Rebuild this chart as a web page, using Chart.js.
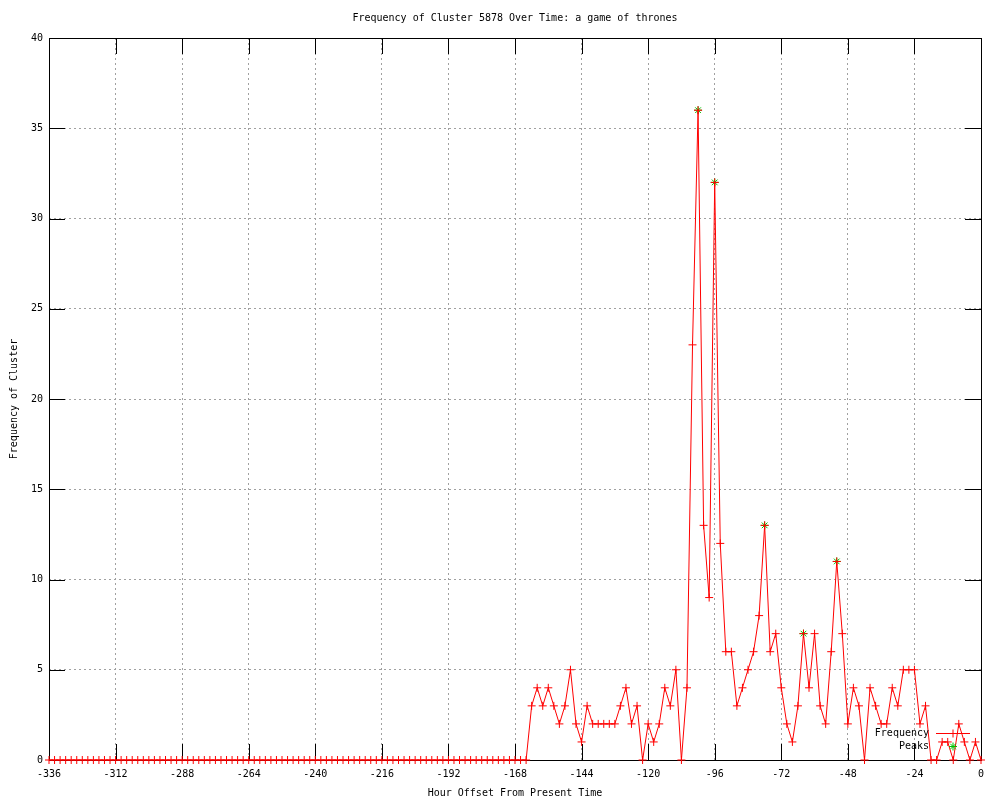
<!DOCTYPE html>
<html>
<head>
<meta charset="utf-8">
<title>Frequency of Cluster 5878</title>
<script src="https://cdn.jsdelivr.net/npm/chart.js@4/dist/chart.umd.min.js"></script>
<style>
    body { margin: 0; background: #fff; }
</style>
</head>
<body>
<canvas id="cluster-chart" width="1000" height="800"></canvas>
<script>
// hour offsets (2h buckets) and the cluster counts
const hours = [
    -336, -334, -332, -330, -328, -326, -324, -322, -320, -318, -316, -314,
    -312, -310, -308, -306, -304, -302, -300, -298, -296, -294, -292, -290,
    -288, -286, -284, -282, -280, -278, -276, -274, -272, -270, -268, -266,
    -264, -262, -260, -258, -256, -254, -252, -250, -248, -246, -244, -242,
    -240, -238, -236, -234, -232, -230, -228, -226, -224, -222, -220, -218,
    -216, -214, -212, -210, -208, -206, -204, -202, -200, -198, -196, -194,
    -192, -190, -188, -186, -184, -182, -180, -178, -176, -174, -172, -170,
    -168, -166, -164, -162, -160, -158, -156, -154, -152, -150, -148, -146,
    -144, -142, -140, -138, -136, -134, -132, -130, -128, -126, -124, -122,
    -120, -118, -116, -114, -112, -110, -108, -106, -104, -102, -100, -98,
    -96, -94, -92, -90, -88, -86, -84, -82, -80, -78, -76, -74,
    -72, -70, -68, -66, -64, -62, -60, -58, -56, -54, -52, -50,
    -48, -46, -44, -42, -40, -38, -36, -34, -32, -30, -28, -26,
    -24, -22, -20, -18, -16, -14, -12, -10, -8, -6, -4, -2,
    0
]
const frequency = [
    0, 0, 0, 0, 0, 0, 0, 0, 0, 0, 0, 0,
    0, 0, 0, 0, 0, 0, 0, 0, 0, 0, 0, 0,
    0, 0, 0, 0, 0, 0, 0, 0, 0, 0, 0, 0,
    0, 0, 0, 0, 0, 0, 0, 0, 0, 0, 0, 0,
    0, 0, 0, 0, 0, 0, 0, 0, 0, 0, 0, 0,
    0, 0, 0, 0, 0, 0, 0, 0, 0, 0, 0, 0,
    0, 0, 0, 0, 0, 0, 0, 0, 0, 0, 0, 0,
    0, 0, 0, 3, 4, 3, 4, 3, 2, 3, 5, 2,
    1, 3, 2, 2, 2, 2, 2, 3, 4, 2, 3, 0,
    2, 1, 2, 4, 3, 5, 0, 4, 23, 36, 13, 9,
    32, 12, 6, 6, 3, 4, 5, 6, 8, 13, 6, 7,
    4, 2, 1, 3, 7, 4, 7, 3, 2, 6, 11, 7,
    2, 4, 3, 0, 4, 3, 2, 2, 4, 3, 5, 5,
    5, 2, 3, 0, 0, 1, 1, 0, 2, 1, 0, 1,
    0
]
const peakHours = [-102, -96, -78, -64, -52]
const peakValues = [36, 32, 13, 7, 11]

const titleText = "Frequency of Cluster 5878 Over Time: a game of thrones"
const xTitle = "Hour Offset From Present Time"
const yTitle = "Frequency of Cluster"
const legendNames = ["Frequency", "Peaks"]

const RED = "#ff0000"
const GREEN = "#00c000"
const GRID = "#a0a0a0"
const MONO = '"DejaVu Sans Mono", monospace'

Chart.defaults.font.family = MONO
Chart.defaults.font.size = 10
Chart.defaults.color = "#000"

// gnuplot style frame: black box with inward ticks on all four sides
const framePlugin = {
    id: "frame",
    beforeDatasetsDraw(chart) {
        const {ctx, chartArea: a, scales} = chart
        const len = 16
        ctx.save()
        ctx.strokeStyle = "#000"
        ctx.lineWidth = 1
        ctx.beginPath()
        scales.x.ticks.forEach(t => {
            let px = Math.round(scales.x.getPixelForValue(t.value)) + 0.5
            ctx.moveTo(px, a.bottom); ctx.lineTo(px, a.bottom - len)
            ctx.moveTo(px, a.top); ctx.lineTo(px, a.top + len)
        })
        scales.y.ticks.forEach(t => {
            let py = Math.round(scales.y.getPixelForValue(t.value)) + 0.5
            ctx.moveTo(a.left, py); ctx.lineTo(a.left + len, py)
            ctx.moveTo(a.right, py); ctx.lineTo(a.right - len, py)
        })
        ctx.stroke()
        ctx.strokeRect(Math.round(a.left) + 0.5, Math.round(a.top) + 0.5,
            Math.round(a.right - a.left), Math.round(a.bottom - a.top))
        // title is centred over the plot box, like gnuplot does
        ctx.font = "10px " + MONO
        ctx.fillStyle = "#000"
        ctx.textAlign = "center"
        ctx.textBaseline = "middle"
        ctx.fillText(titleText, (a.left + a.right) / 2, a.top - 20)
        ctx.restore()
    }
}

// key in the lower right corner, text left of the sample
const keyPlugin = {
    id: "key",
    afterDatasetsDraw(chart) {
        const {ctx, chartArea: a} = chart
        const textRight = a.right - 52
        const sampleL = a.right - 45, sampleR = a.right - 11
        const mid = (sampleL + sampleR) / 2
        const rows = [a.bottom - 27, a.bottom - 14]
        ctx.save()
        ctx.font = "10px " + MONO
        ctx.fillStyle = "#000"
        ctx.textAlign = "right"
        ctx.textBaseline = "middle"
        ctx.fillText(legendNames[0], textRight, rows[0])
        ctx.fillText(legendNames[1], textRight, rows[1])
        ctx.strokeStyle = RED
        ctx.lineWidth = 1
        ctx.beginPath()
        ctx.moveTo(sampleL, rows[0] + 0.5); ctx.lineTo(sampleR, rows[0] + 0.5)
        ctx.stroke()
        Chart.helpers.drawPoint(ctx, {pointStyle: "cross", radius: 4, borderWidth: 1, rotation: 0}, mid, rows[0] + 0.5)
        ctx.strokeStyle = GREEN
        Chart.helpers.drawPoint(ctx, {pointStyle: "star", radius: 4, borderWidth: 1, rotation: 0}, mid, rows[1] + 0.5)
        ctx.restore()
    }
}

const ctx = document.getElementById("cluster-chart")
const chart = new Chart(ctx, {
    type: "line",
    data: {
        datasets: [{
            label: legendNames[0],
            data: hours.map((h, i) => ({x: h, y: frequency[i]})),
            borderColor: RED,
            borderWidth: 1,
            pointStyle: "cross",
            pointRadius: 4,
            pointBorderColor: RED,
            pointBorderWidth: 1,
            tension: 0,
            clip: 10,
            order: 0,
        }, {
            label: legendNames[1],
            data: peakHours.map((h, i) => ({x: h, y: peakValues[i]})),
            showLine: false,
            pointStyle: "star",
            pointRadius: 4,
            pointBorderColor: GREEN,
            pointBackgroundColor: GREEN,
            pointBorderWidth: 1,
            clip: 10,
            order: 1,
        }],
    },
    options: {
        responsive: false,
        animation: false,
        devicePixelRatio: 1,
        layout: { padding: { top: 38, right: 19, left: 0, bottom: 0 } },
        scales: {
            x: {
                type: "linear",
                min: -336,
                max: 0,
                ticks: { stepSize: 24, padding: 8, color: "#000", font: { size: 10 } },
                grid: { color: GRID, drawTicks: false },
                border: { display: false, dash: [2, 3] },
                title: { display: true, text: xTitle, color: "#000", font: { size: 10 }, padding: { top: 0, bottom: 1 } },
                afterFit: s => { s.height = 40 },
            },
            y: {
                min: 0,
                max: 40,
                ticks: { stepSize: 5, padding: 6, color: "#000", font: { size: 10 } },
                grid: { color: GRID, drawTicks: false },
                border: { display: false, dash: [2, 3] },
                title: { display: true, text: yTitle, color: "#000", font: { size: 10 }, padding: { top: 8, bottom: 0 } },
                afterFit: s => { s.width = 49 },
            },
        },
        plugins: {
            legend: { display: false },
            tooltip: { enabled: false },
            title: { display: false },
        },
    },
    plugins: [framePlugin, keyPlugin],
})
</script>
</body>
</html>
